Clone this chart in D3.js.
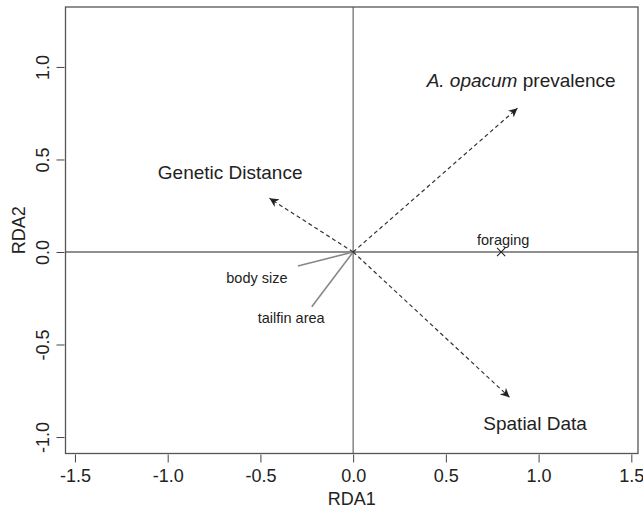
<!DOCTYPE html>
<html>
<head>
<meta charset="utf-8">
<script src="https://cdn.jsdelivr.net/npm/d3@7"></script>
<style>
  body { margin: 0; background: #fff; }
  text { font-family: "Liberation Sans", Arial, sans-serif; fill: #222; }
</style>
</head>
<body>
<script>

// environmental vectors (dashed arrows)
var arrowNames = ["A. opacum prevalence", "Genetic Distance", "Spatial Data"];
var arrowX = [0.886, -0.451, 0.843];
var arrowY = [0.777, 0.290, -0.785];
var arrowLabelX = [0.906, -0.663, 0.981];
var arrowLabelY = [0.926, 0.432, -0.924];

// trait vectors (grey solid lines)
var traitNames = ["body size", "tailfin area"];
var traitX = [-0.298, -0.223];
var traitY = [-0.076, -0.296];
var traitLabelX = [-0.519, -0.334];
var traitLabelY = [-0.138, -0.354];

// point
var pointNames = ["foraging"];
var pointX = [0.798];
var pointY = [0.0];
var pointLabelX = [0.809];
var pointLabelY = [0.065];

var xTicks = [-1.5, -1.0, -0.5, 0.0, 0.5, 1.0, 1.5];
var yTicks = [-1.0, -0.5, 0.0, 0.5, 1.0];

var w = 643;
var h = 511;
var margin = {left: 65.5, right: 5, top: 7, bottom: 57.5};

var x = d3.scaleLinear()
    .domain([-1.551, 1.536])
    .range([margin.left, w - margin.right]);

var y = d3.scaleLinear()
    .domain([-1.089, 1.324])
    .range([h - margin.bottom, margin.top]);

var fmt = function(d) { return d.toFixed(1); };

var svg = d3.select("body")
    .append("svg")
    .attr("width", w)
    .attr("height", h);

svg.append("defs").append("marker")
    .attr("id", "head")
    .attr("viewBox", "0 0 10 10")
    .attr("refX", 10)
    .attr("refY", 5)
    .attr("markerWidth", 9)
    .attr("markerHeight", 9)
    .attr("markerUnits", "userSpaceOnUse")
    .attr("orient", "auto")
    .append("path")
    .attr("d", "M0,0 L10,5 L0,10 L3,5 Z")
    .attr("fill", "#222");

// zero lines
svg.append("line")
    .attr("x1", x.range()[0]).attr("x2", x.range()[1])
    .attr("y1", y(0)).attr("y2", y(0))
    .attr("stroke", "#222")
    .attr("stroke-width", 1.2);

svg.append("line")
    .attr("x1", x(0)).attr("x2", x(0))
    .attr("y1", y.range()[0]).attr("y2", y.range()[1])
    .attr("stroke", "#666")
    .attr("stroke-width", 1.2);

// axes
var xAxis = d3.axisBottom(x)
    .tickValues(xTicks)
    .tickFormat(fmt)
    .tickSize(9)
    .tickPadding(7);

var gx = svg.append("g")
    .attr("transform", "translate(0," + (h - margin.bottom) + ")")
    .call(xAxis);
gx.select(".domain").remove();
gx.selectAll("line").attr("stroke", "#444").attr("y1", 1);
gx.selectAll("text")
    .attr("font-size", "18px")
    .attr("fill", "#222")
    .attr("font-family", "Liberation Sans, Arial, sans-serif");

var yAxis = d3.axisLeft(y)
    .tickValues(yTicks)
    .tickFormat(fmt)
    .tickSize(9)
    .tickPadding(3);

var gy = svg.append("g")
    .attr("transform", "translate(" + margin.left + ",0)")
    .call(yAxis);
gy.select(".domain").remove();
gy.selectAll("line").attr("stroke", "#444").attr("x1", -1);
gy.selectAll("text")
    .attr("font-size", "18px")
    .attr("fill", "#222")
    .attr("font-family", "Liberation Sans, Arial, sans-serif")
    .attr("text-anchor", "middle")
    .attr("x", 0)
    .attr("y", 0)
    .attr("dy", "0.35em")
    .attr("transform", "translate(-23,0) rotate(-90)");

// box
svg.append("rect")
    .attr("x", x.range()[0])
    .attr("y", y.range()[1])
    .attr("width", x.range()[1] - x.range()[0])
    .attr("height", y.range()[0] - y.range()[1])
    .attr("fill", "none")
    .attr("stroke", "#555")
    .attr("stroke-width", 1.3);

// axis titles
svg.append("text")
    .attr("x", (x.range()[0] + x.range()[1]) / 2)
    .attr("y", h - 6)
    .attr("text-anchor", "middle")
    .attr("font-size", "18px")
    .text("RDA1");

svg.append("text")
    .attr("transform", "translate(25," + (y.range()[0] + y.range()[1]) / 2 + ") rotate(-90)")
    .attr("text-anchor", "middle")
    .attr("font-size", "18px")
    .text("RDA2");

// trait lines
svg.selectAll(".trait")
    .data(traitNames)
    .enter()
    .append("line")
    .attr("class", "trait")
    .attr("x1", x(0))
    .attr("y1", y(0))
    .attr("x2", function(d, i) { return x(traitX[i]); })
    .attr("y2", function(d, i) { return y(traitY[i]); })
    .attr("stroke", "#888")
    .attr("stroke-width", 1.6);

svg.selectAll(".traitlab")
    .data(traitNames)
    .enter()
    .append("text")
    .attr("class", "traitlab")
    .attr("x", function(d, i) { return x(traitLabelX[i]); })
    .attr("y", function(d, i) { return y(traitLabelY[i]); })
    .attr("dy", "0.35em")
    .attr("text-anchor", "middle")
    .attr("font-size", "14.5px")
    .text(function(d) { return d; });

// arrows
svg.selectAll(".arrow")
    .data(arrowNames)
    .enter()
    .append("line")
    .attr("class", "arrow")
    .attr("x1", x(0))
    .attr("y1", y(0))
    .attr("x2", function(d, i) { return x(arrowX[i]); })
    .attr("y2", function(d, i) { return y(arrowY[i]); })
    .attr("stroke", "#333")
    .attr("stroke-width", 1.2)
    .attr("stroke-dasharray", "4,3")
    .attr("marker-end", "url(#head)");

var arrowLab = svg.selectAll(".arrowlab")
    .data(arrowNames)
    .enter()
    .append("text")
    .attr("class", "arrowlab")
    .attr("x", function(d, i) { return x(arrowLabelX[i]); })
    .attr("y", function(d, i) { return y(arrowLabelY[i]); })
    .attr("dy", "0.35em")
    .attr("text-anchor", "middle")
    .attr("font-size", "19px");

arrowLab.each(function(d) {
    var t = d3.select(this);
    if (d.indexOf("A. opacum") === 0) {
        t.append("tspan").attr("font-style", "italic").text("A. opacum");
        t.append("tspan").text(d.replace("A. opacum", ""));
    } else {
        t.text(d);
    }
});

// point
svg.selectAll(".pt")
    .data(pointNames)
    .enter()
    .append("path")
    .attr("class", "pt")
    .attr("d", d3.symbol().type(d3.symbolX).size(45))
    .attr("transform", function(d, i) {
        return "translate(" + x(pointX[i]) + "," + y(pointY[i]) + ")";
    })
    .attr("fill", "none")
    .attr("stroke", "#222")
    .attr("stroke-width", 1.1);

svg.selectAll(".ptlab")
    .data(pointNames)
    .enter()
    .append("text")
    .attr("class", "ptlab")
    .attr("x", function(d, i) { return x(pointLabelX[i]); })
    .attr("y", function(d, i) { return y(pointLabelY[i]); })
    .attr("dy", "0.35em")
    .attr("text-anchor", "middle")
    .attr("font-size", "14.5px")
    .text(function(d) { return d; });

</script>
</body>
</html>
